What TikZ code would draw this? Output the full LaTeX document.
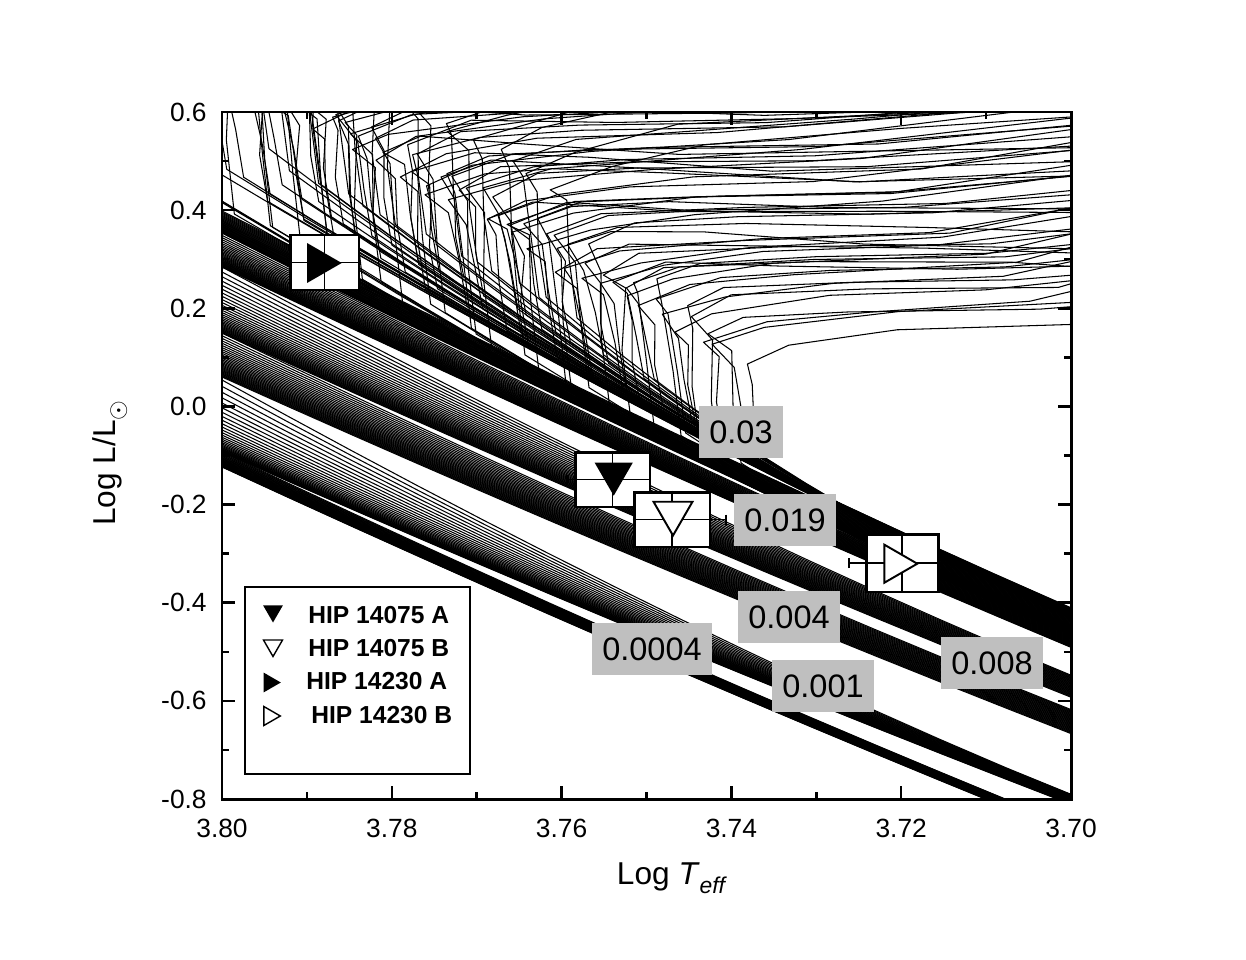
\documentclass[tikz,border=0pt]{standalone}
\usepackage{fontspec}
\setmainfont{Liberation Sans}
\usetikzlibrary{shapes.geometric,arrows.meta}

\begin{document}
\begin{tikzpicture}[x=0.02cm,y=-0.02cm]
\tikzstyle{every node}=[inner sep=0pt]
\tikzstyle{iso}=[line width=0.6pt, line join=round]
\tikzstyle{frame}=[line width=1.7pt]
\tikzstyle{tick}=[line width=1.4pt]
\tikzstyle{zlabel}=[fill=black!25, inner xsep=6pt, minimum height=29.5pt, font=\fontsize{18.5}{22}\selectfont]
\tikzstyle{starbox}=[draw, fill=white, line width=1.7pt]
\tikzstyle{ebar}=[line width=0.9pt]
\tikzstyle{tri}=[regular polygon, regular polygon sides=3, inner sep=0pt, line width=1.1pt]
\tikzstyle{ticklab}=[font=\fontsize{15}{18}\selectfont]
\tikzstyle{leglab}=[anchor=west, font=\fontsize{14}{16}\selectfont\bfseries]
\useasboundingbox (0,0) rectangle (1246,959);

% isochrones
\begin{scope}
\clip (222,112) rectangle (1071,799);
% main sequence fans: y at 3.80, slope, spread, spread at 3.70
\foreach \yz/\sz/\wl/\wr in {233/0.468/6/16, 267/0.448/19/15, 333/0.429/44/22, 377/0.42/20/24, 452/0.415/62/10, 467/0.432/7/8}{
  \foreach \ia in {0,...,30}{
    \pgfmathsetmacro\ta{\ia/30}
    \draw[iso] plot[domain=222:1071, samples=14] (\x,{\yz+\sz*(\x-222)-0.35*((\x-222)/100)*((\x-1071)/100)-\wr*\ta-\wl*\ta*\ta*\ta*((1072-\x)/850)^1.5});
  }
}
% turnoffs, hooks and subgiants
\pgfmathsetseed{11}
\foreach \yz/\sz/\tx/\ty/\nn/\sd/\bd in {233/0.468/750/380/15/-1/24, 267/0.448/730/350/15/0.3/30, 233/0.468/560/200/8/-2.2/80, 233/0.468/640/300/10/1.5/50}{
  \foreach \ia in {0,0.5,...,\nn}{
    \pgfmathsetmacro\Tx{\tx-37*\ia+14*(rnd-0.5)}
    \pgfmathsetmacro\Ty{\ty-21*\ia+10*(rnd-0.5)}
    \pgfmathsetmacro\Bx{\Tx+4+16*rnd}
    \pgfmathsetmacro\Bd{\bd+2*\ia+15*rnd}
    \pgfmathsetmacro\rr{12+0.7*\ia}
    \pgfmathsetmacro\By{\yz+\sz*(\Bx-222)-0.35*((\Bx-222)/100)*((\Bx-1071)/100)-\Bd}
    \pgfmathsetmacro\Ka{\Tx-4-20*rnd}
    \pgfmathsetmacro\Kb{\Ty-10-18*rnd}
    \pgfmathsetmacro\Sa{\Ka+35+35*rnd}
    \pgfmathsetmacro\Sb{\Kb-15-10*rnd}
    \pgfmathsetmacro\Ua{\Sa+90+60*rnd}
    \pgfmathsetmacro\Ub{\Sb-8+\sd*12*rnd}
    \pgfmathsetmacro\Va{\Ua+150+80*rnd}
    \pgfmathsetmacro\Vb{\Ub-4+\sd*12*rnd}
    \pgfmathsetmacro\Eb{\Vb-4-2.5*\ia+\sd*10*rnd}
    \draw[iso] (1071,\Eb) -- (\Va,\Vb) -- (\Ua,\Ub) -- (\Sa,\Sb) -- (\Ka,\Kb) -- (\Tx,\Ty)
      -- (\Bx-8,{(\By+\Ty)/2}) -- (\Bx,\By)
      -- plot[domain=\Bx:1071, samples=12] (\x,{\yz+\sz*(\x-222)-0.35*((\x-222)/100)*((\x-1071)/100)-\rr-(\Bd-\rr)*((1072-\x)/(1072-\Bx))^2.5});
  }
}
\end{scope}

% frame and ticks
\draw[frame] (222,112) rectangle (1071,799);
\foreach \i in {0,...,10}{
  \pgfmathsetmacro\xx{222+84.9*\i}
  \pgfmathsetmacro\tl{ifthenelse(mod(\i,2)==0,13,7)}
  \draw[tick] (\xx,799) -- (\xx,799-\tl);
  \draw[tick] (\xx,112) -- (\xx,112+\tl);
}
\foreach \i in {0,...,14}{
  \pgfmathsetmacro\yy{112+49.07*\i}
  \pgfmathsetmacro\tl{ifthenelse(mod(\i,2)==0,13,7)}
  \draw[tick] (222,\yy) -- (222+\tl,\yy);
  \draw[tick] (1071,\yy) -- (1071-\tl,\yy);
}
\foreach \lab [count=\i from 0] in {3.80,3.78,3.76,3.74,3.72,3.70}
  \node[ticklab] (xt\i) at (222+169.8*\i,828) {\lab};
\foreach \lab [count=\i from 0] in {0.6,0.4,0.2,0.0,-0.2,-0.4,-0.6,-0.8}
  \node[ticklab, anchor=east] (yt\i) at (207,112+98.14*\i) {\lab};
\node (xtitle) at (672,878) {\fontsize{18}{22}\selectfont Log \textit{T}\raisebox{-0.3em}{\fontsize{13}{15}\selectfont\textit{eff}}};
\node[rotate=90] (ytitle) at (110,463) {\fontsize{18}{22}\selectfont Log L/L\raisebox{-0.3em}{\fontsize{14}{15}\selectfont$\odot$}};

% metallicity labels
\node[zlabel] (z030) at (741,432) {0.03};
\node[zlabel] (z019) at (785,520) {0.019};
\node[zlabel] (z004) at (789,617) {0.004};
\node[zlabel] (z0004) at (652,649) {0.0004};
\node[zlabel] (z008) at (992,663) {0.008};
\node[zlabel] (z001) at (823,686) {0.001};

% HIP 14230 A
\node[starbox, minimum width=1.38cm, minimum height=1.1cm] (boxa) at (324.5,262.5) {};
\draw[ebar] (boxa.west) -- (boxa.east);
\draw[ebar] (boxa.north) -- (boxa.south);
\node[tri, shape border rotate=-90, fill=black, minimum size=0.92cm] (tria) at (318.7,263) {};
% HIP 14075 A
\node[starbox, minimum width=1.5cm, minimum height=1.1cm] (boxc) at (612.5,479.5) {};
\coordinate (capc) at (566,479.5);
\draw[ebar, {Bar[width=0.2cm]}-] (capc) -- (boxc.east);
\draw[ebar] (boxc.north) -- (boxc.south);
\node[tri, shape border rotate=180, fill=black, minimum size=0.88cm] (tric) at (613.7,473.7) {};
% HIP 14075 B
\node[starbox, minimum width=1.52cm, minimum height=1.1cm] (boxd) at (672,519.5) {};
\coordinate (capd) at (727,519.5);
\draw[ebar, -{Bar[width=0.2cm]}] (boxd.west) -- (capd);
\draw[ebar] (boxd.north) -- (boxd.south);
\node[tri, shape border rotate=180, draw, fill=white, minimum size=0.9cm] (trid) at (673,513) {};
% HIP 14230 B
\node[starbox, minimum width=1.44cm, minimum height=1.16cm] (boxb) at (902,563) {};
\coordinate (capb1) at (848,563);
\coordinate (capb2) at (953,563);
\draw[ebar, {Bar[width=0.2cm]}-{Bar[width=0.2cm]}] (capb1) -- (capb2);
\draw[ebar] (boxb.north) -- (boxb.south);
\node[tri, shape border rotate=-90, draw, fill=white, minimum size=0.88cm] (trib) at (895.3,563.7) {};

% legend
\node[draw, fill=white, line width=0.6pt, minimum width=4.5cm, minimum height=3.74cm] (legend) at (357.5,680.5) {};
\node[tri, shape border rotate=180, fill=black, minimum size=0.46cm] (lg1) at (273,611) {};
\node[tri, shape border rotate=180, draw, line width=0.8pt, minimum size=0.44cm] (lg2) at (273,645.5) {};
\node[tri, shape border rotate=-90, fill=black, minimum size=0.46cm] (lg3) at (269.3,682.5) {};
\node[tri, shape border rotate=-90, draw, line width=0.8pt, minimum size=0.44cm] (lg4) at (269.3,716) {};
\node[leglab] (lt1) at (308,615) {HIP 14075 A};
\node[leglab] (lt2) at (308,648.5) {HIP 14075 B};
\node[leglab] (lt3) at (306,681.5) {HIP 14230 A};
\node[leglab] (lt4) at (311,715.5) {HIP 14230 B};
\end{tikzpicture}
\end{document}
